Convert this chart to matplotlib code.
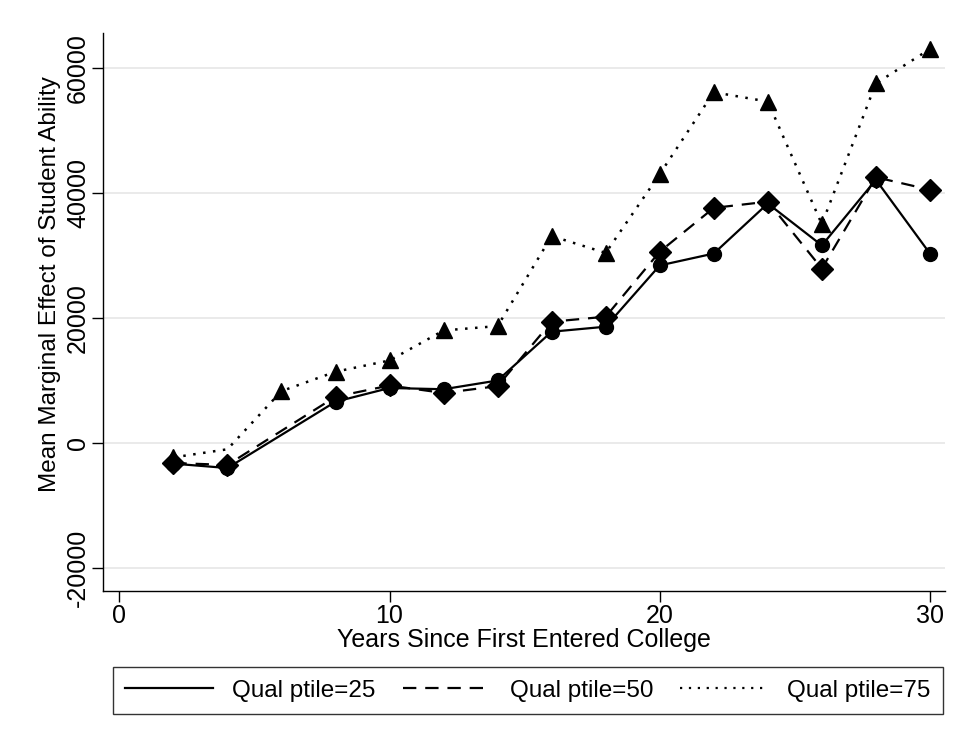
import matplotlib.pyplot as plt
from matplotlib.lines import Line2D

plt.rcParams['font.family'] = ['Liberation Sans', 'DejaVu Sans']

years = [2, 4, 6, 8, 10, 12, 14, 16, 18, 20, 22, 24, 26, 28, 30]
years_mid = [2, 4, 8, 10, 12, 14, 16, 18, 20, 22, 24, 26, 28, 30]

# ptile 25 and 50 have no value at year 6
ptile25 = [-3300, -4000, 6600, 8800, 8600, 10000, 17800, 18600, 28400, 30300, 38300, 31600, 42100, 30300]
ptile50 = [-3200, -3500, 7400, 9200, 8000, 9100, 19400, 20200, 30600, 37600, 38600, 27900, 42500, 40500]
ptile75 = [-2300, -1000, 8300, 11400, 13200, 18000, 18700, 33100, 30400, 43000, 56100, 54600, 35000, 57500, 63000]

y_ticks = [-20000, 0, 20000, 40000, 60000]
x_ticks = [0, 10, 20, 30]

fig = plt.figure(figsize=(9.73, 7.29), dpi=100)
ax = fig.add_axes([0.106, 0.189, 0.865, 0.766])

ax.plot(years_mid, ptile25, color='black', lw=1.6, ls='-', marker='o', ms=10)
ax.plot(years_mid, ptile50, color='black', lw=1.6, ls=(0, (6, 4)), marker='D', ms=11)
ax.plot(years, ptile75, color='black', lw=1.8, ls=(0, (1, 3)), marker='^', ms=11,
        markevery=[0] + list(range(2, len(years))))

ax.set_xlim(-0.6, 30.55)
ax.set_ylim(-23700, 65600)
ax.set_xticks(x_ticks)
ax.set_yticks(y_ticks)
ax.set_yticklabels([str(v) for v in y_ticks], rotation=90, va='center')
ax.tick_params(axis='both', direction='out', length=8, width=1, labelsize=18, pad=1.5)
ax.grid(axis='y', color='#e6e6e6', lw=1.2)
ax.set_axisbelow(True)
for side in ['top', 'right']:
    ax.spines[side].set_visible(False)
ax.spines['left'].set_linewidth(1)
ax.spines['bottom'].set_linewidth(1)

ax.set_xlabel('Years Since First Entered College', fontsize=18, labelpad=0)
ax.set_ylabel('Mean Marginal Effect of Student Ability', fontsize=17.5)
ax.yaxis.set_label_coords(-0.05, 0.55)

handles = [
    Line2D([], [], color='black', lw=1.6, ls='-'),
    Line2D([], [], color='black', lw=1.6, ls=(0, (6, 4))),
    Line2D([], [], color='black', lw=1.6, ls=(0, (1, 3))),
]
labels = ['Qual ptile=25', 'Qual ptile=50', 'Qual ptile=75']
leg = fig.legend(handles, labels, loc='lower left', ncol=3, mode='expand',
                 bbox_to_anchor=(0.116, 0.021, 0.853, 0.064), fontsize=17.5,
                 handlelength=3.6, frameon=True, fancybox=False, borderaxespad=0,
                 columnspacing=1.0, handletextpad=0.8, borderpad=0.5)
leg.get_frame().set_edgecolor('black')
leg.get_frame().set_linewidth(1)

fig.savefig('out.png', dpi=100, facecolor='white')
